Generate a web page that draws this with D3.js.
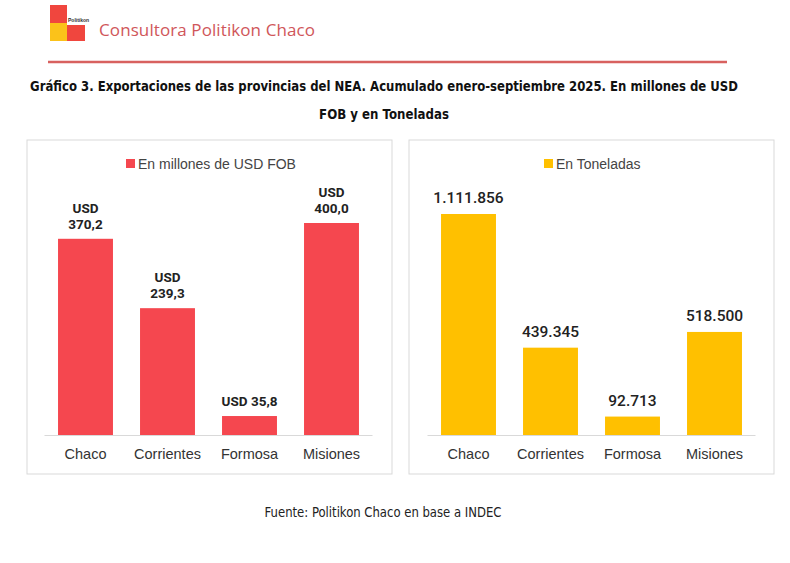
<!DOCTYPE html>
<html>
<head>
<meta charset="utf-8">
<script src="https://cdn.jsdelivr.net/npm/d3@7"></script>
<style>
  body { margin: 0; background: #fff; }
  svg { display: block; }
</style>
</head>
<body>
<svg width="790" height="563"></svg>
<script>
const svg = d3.select("svg");

const provinces = ["Chaco", "Corrientes", "Formosa", "Misiones"];
const usdValues = [370.2, 239.3, 35.8, 400.0];
const tonValues = [1111856, 439345, 92713, 518500];
const usdWrap = [true, true, false, true];

const titleLines = [
  "Gráfico 3. Exportaciones de las provincias del NEA. Acumulado enero-septiembre 2025. En millones de USD",
  "FOB y en Toneladas",
];
const titleWidths = [708, 130];
const source = "Fuente: Politikon Chaco en base a INDEC";

const red = "#f5474f";
const gold = "#ffc000";
const locale = d3.formatLocale({ decimal: ",", thousands: ".", grouping: [3], currency: ["", ""] });
const fmtUsd = locale.format(",.1f");
const fmtTon = locale.format(",.0f");

// squeeze a centred text horizontally to a given width
const fitText = (sel, cx, width) => {
  sel.each(function () {
    const w = this.getComputedTextLength();
    const k = Math.min(1, width / w);
    d3.select(this).attr("transform", `translate(${cx},0) scale(${k},1)`);
  });
};

// header / logo
svg.append("rect").attr("x", 50).attr("y", 5).attr("width", 17).attr("height", 18).attr("fill", "#f0463e");
svg.append("rect").attr("x", 50).attr("y", 23).attr("width", 17).attr("height", 18).attr("fill", "#fbc21a");
svg.append("rect").attr("x", 67).attr("y", 25).attr("width", 18).attr("height", 16).attr("fill", "#f0463e");
svg.append("text").attr("x", 68).attr("y", 22).attr("font-family", "Liberation Sans").attr("font-size", 5)
  .attr("font-weight", "bold").attr("fill", "#333").text("Politikon");
svg.append("text").attr("x", 99).attr("y", 36).attr("font-family", "Open Sans, sans-serif")
  .attr("font-size", 17).attr("font-weight", 500).attr("fill", "#d0565a")
  .attr("textLength", 216).text("Consultora Politikon Chaco");
svg.append("line").attr("x1", 48).attr("x2", 727).attr("y1", 62).attr("y2", 62)
  .attr("stroke", "#d8615f").attr("stroke-width", 2.5);

// title
svg.selectAll("text.title")
  .data(titleLines)
  .join("text")
  .attr("class", "title")
  .attr("x", 0)
  .attr("y", (d, i) => 91 + i * 28)
  .attr("text-anchor", "middle")
  .attr("font-family", "Liberation Sans Narrow, DejaVu Sans Condensed, sans-serif")
  .attr("font-weight", "bold")
  .attr("font-size", 14)
  .attr("fill", "#111")
  .text((d) => d)
  .each(function (d, i) {
    fitText(d3.select(this), 384, titleWidths[i]);
  });

svg.append("text").attr("x", 0).attr("y", 517).attr("text-anchor", "middle")
  .attr("font-family", "Liberation Sans Narrow, DejaVu Sans Condensed, sans-serif")
  .attr("font-size", 13.5).attr("fill", "#222").text(source)
  .call(fitText, 383, 237);

const baseline = 435;

const panel = (cfg) => {
  const g = svg.append("g");
  g.append("rect")
    .attr("x", cfg.box[0]).attr("y", 140).attr("width", cfg.box[1]).attr("height", 334)
    .attr("fill", "#fff").attr("stroke", "#d9d9d9");

  const x = d3.scaleBand().domain(provinces).range(cfg.range).paddingInner(0.33).paddingOuter(0.165);
  const y = d3.scaleLinear().domain([0, cfg.max]).range([baseline, cfg.top]);
  const data = provinces.map((p, i) => ({ p, v: cfg.values[i], i }));

  g.selectAll("rect.bar")
    .data(data)
    .join("rect")
    .attr("class", "bar")
    .attr("x", (d) => x(d.p))
    .attr("y", (d) => y(d.v))
    .attr("width", x.bandwidth())
    .attr("height", (d) => baseline - y(d.v))
    .attr("fill", cfg.color);

  g.append("line")
    .attr("x1", cfg.range[0]).attr("x2", cfg.range[1])
    .attr("y1", baseline + 0.5).attr("y2", baseline + 0.5)
    .attr("stroke", "#d9d9d9");

  const xAxis = d3.axisBottom(x).tickSize(0).tickPadding(14);
  g.append("g")
    .attr("transform", `translate(0,${baseline})`)
    .call(xAxis)
    .call((a) => a.select(".domain").remove())
    .selectAll("text")
    .attr("font-family", "Liberation Sans, Roboto, sans-serif")
    .attr("font-size", 14.5)
    .attr("fill", "#333");

  // legend
  g.append("rect").attr("x", cfg.legendX).attr("y", 159).attr("width", 9).attr("height", 9).attr("fill", cfg.color);
  g.append("text").attr("x", cfg.legendX + 12).attr("y", 169)
    .attr("font-family", "Liberation Sans, Roboto, sans-serif").attr("font-size", 14)
    .attr("fill", "#444").text(cfg.legend);

  cfg.labels(g, data, x, y);
};

panel({
  box: [27, 365],
  range: [44.5, 372.5],
  values: usdValues,
  max: 400,
  top: 223,
  color: red,
  legendX: 126,
  legend: "En millones de USD FOB",
  labels: (g, data, x, y) => {
    const t = g.selectAll("text.lbl")
      .data(data)
      .join("text")
      .attr("class", "lbl")
      .attr("text-anchor", "middle")
      .attr("font-family", "Roboto, Liberation Sans, sans-serif")
      .attr("font-weight", "bold")
      .attr("font-size", 13.5)
      .attr("fill", "#222");
    t.filter((d) => usdWrap[d.i])
      .selectAll("tspan")
      .data((d) => [
        { t: "USD", x: x(d.p) + x.bandwidth() / 2, y: y(d.v) - 26 },
        { t: fmtUsd(d.v), x: x(d.p) + x.bandwidth() / 2, y: y(d.v) - 10 },
      ])
      .join("tspan")
      .attr("x", (s) => s.x)
      .attr("y", (s) => s.y)
      .text((s) => s.t);
    t.filter((d) => !usdWrap[d.i])
      .attr("x", (d) => x(d.p) + x.bandwidth() / 2)
      .attr("y", (d) => y(d.v) - 10)
      .text((d) => "USD " + fmtUsd(d.v));
  },
});

panel({
  box: [409, 365],
  range: [427.5, 755.5],
  values: tonValues,
  max: 1111856,
  top: 214,
  color: gold,
  legendX: 544,
  legend: "En Toneladas",
  labels: (g, data, x, y) => {
    g.selectAll("text.lbl")
      .data(data)
      .join("text")
      .attr("class", "lbl")
      .attr("x", (d) => x(d.p) + x.bandwidth() / 2)
      .attr("y", (d) => y(d.v) - 11)
      .attr("text-anchor", "middle")
      .attr("font-family", "Roboto, Liberation Sans, sans-serif")
      .attr("font-weight", 500)
      .attr("font-size", 15.5)
      .attr("fill", "#222")
      .text((d) => fmtTon(d.v));
  },
});
</script>
</body>
</html>
